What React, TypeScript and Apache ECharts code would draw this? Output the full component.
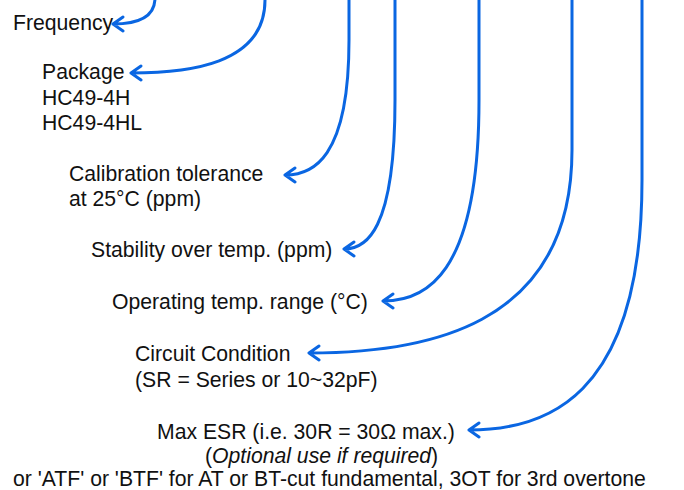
import React, { useEffect, useRef } from "react";
import * as echarts from "echarts";

// Curves: vertical leader coming from the top, bending into an arrow at a label
const CURVE_TOP_X = [155, 265, 349, 395, 479, 572, 642];
const CURVE_BEND_Y = [-2, 0, 40, 100, 100, 150, 180];
const ARROW_TIP_X = [113, 131, 285, 344, 383, 309, 469];
const ARROW_TIP_Y = [24, 73, 175, 249, 301, 353, 430];

// Label lines (text)
const LABEL_LINES = [
  "Frequency",
  "Package",
  "HC49-4H",
  "HC49-4HL",
  "Calibration tolerance",
  "at 25°C (ppm)",
  "Stability over temp. (ppm)",
  "Operating temp. range (°C)",
  "Circuit Condition",
  "(SR = Series or 10~32pF)",
  "Max ESR (i.e. 30R = 30Ω max.)",
  "({i|Optional use if required})",
  "or 'ATF' or 'BTF' for AT or BT-cut fundamental, 3OT for 3rd overtone",
];
// layout of label lines (left x, baseline y)
const LABEL_LEFT = [13, 42, 42, 42, 69, 69, 91, 112, 135, 135, 157, 205, 13];
const LABEL_BASE = [29, 78, 104, 129, 180, 205, 256, 308, 360, 386, 438, 462, 485];

const BLUE = "#0a66e2";
const FONT = "'Liberation Sans', Arial, sans-serif";
const FS = 21.2;

export default function App() {
  const ref = useRef<HTMLDivElement>(null);
  useEffect(() => {
    if (!ref.current) return;
    const chart = echarts.init(ref.current, undefined, { renderer: "svg" });
    const data = CURVE_TOP_X.map((x, i) => [x, CURVE_BEND_Y[i], ARROW_TIP_X[i], ARROW_TIP_Y[i]]);
    const texts = LABEL_LINES.map((t, i) => ({
      type: "text",
      x: LABEL_LEFT[i],
      y: LABEL_BASE[i] - 7,
      style: {
        text: t,
        fill: "#111",
        fontSize: FS,
        lineHeight: 20,
        fontFamily: FONT,
        textAlign: "left",
        textVerticalAlign: "middle",
        rich: { i: { fontStyle: "italic", fontSize: FS, lineHeight: 20, fontFamily: FONT, fill: "#111" } },
      },
    }));
    chart.setOption({
      animation: false,
      grid: { left: 0, right: 0, top: 0, bottom: 0 },
      xAxis: { type: "value", min: 0, max: 684, show: false },
      yAxis: { type: "value", min: 0, max: 490, inverse: true, show: false },
      series: [
        {
          type: "custom",
          clip: false,
          data,
          renderItem: (params: any, api: any) => {
            const topX = api.value(0);
            const bendY = api.value(1);
            const tipX = api.value(2);
            const tipY = api.value(3);
            const p0 = api.coord([topX, -10]);
            const p1 = api.coord([topX, bendY]);
            const c1 = api.coord([topX, bendY + (tipY - bendY) * 0.89]);
            const c2 = api.coord([tipX + (topX - tipX) * 0.42, tipY]);
            const p3 = api.coord([tipX, tipY]);
            const a1 = [p3[0] + 10, p3[1] - 7];
            const a2 = [p3[0] + 10, p3[1] + 7];
            const d =
              `M${p0[0]} ${p0[1]} L${p1[0]} ${p1[1]} C${c1[0]} ${c1[1]} ${c2[0]} ${c2[1]} ${p3[0]} ${p3[1]} ` +
              `M${a1[0]} ${a1[1]} L${p3[0]} ${p3[1]} L${a2[0]} ${a2[1]}`;
            return {
              type: "path",
              shape: { pathData: d },
              style: { stroke: BLUE, fill: "none", lineWidth: 3, lineCap: "round", lineJoin: "round" },
            };
          },
        },
      ],
      graphic: texts,
    });
    return () => chart.dispose();
  }, []);
  return (
    <div
      ref={ref}
      style={{ position: "absolute", left: 0, top: 0, width: 684, height: 490, background: "#fff" }}
    />
  );
}
